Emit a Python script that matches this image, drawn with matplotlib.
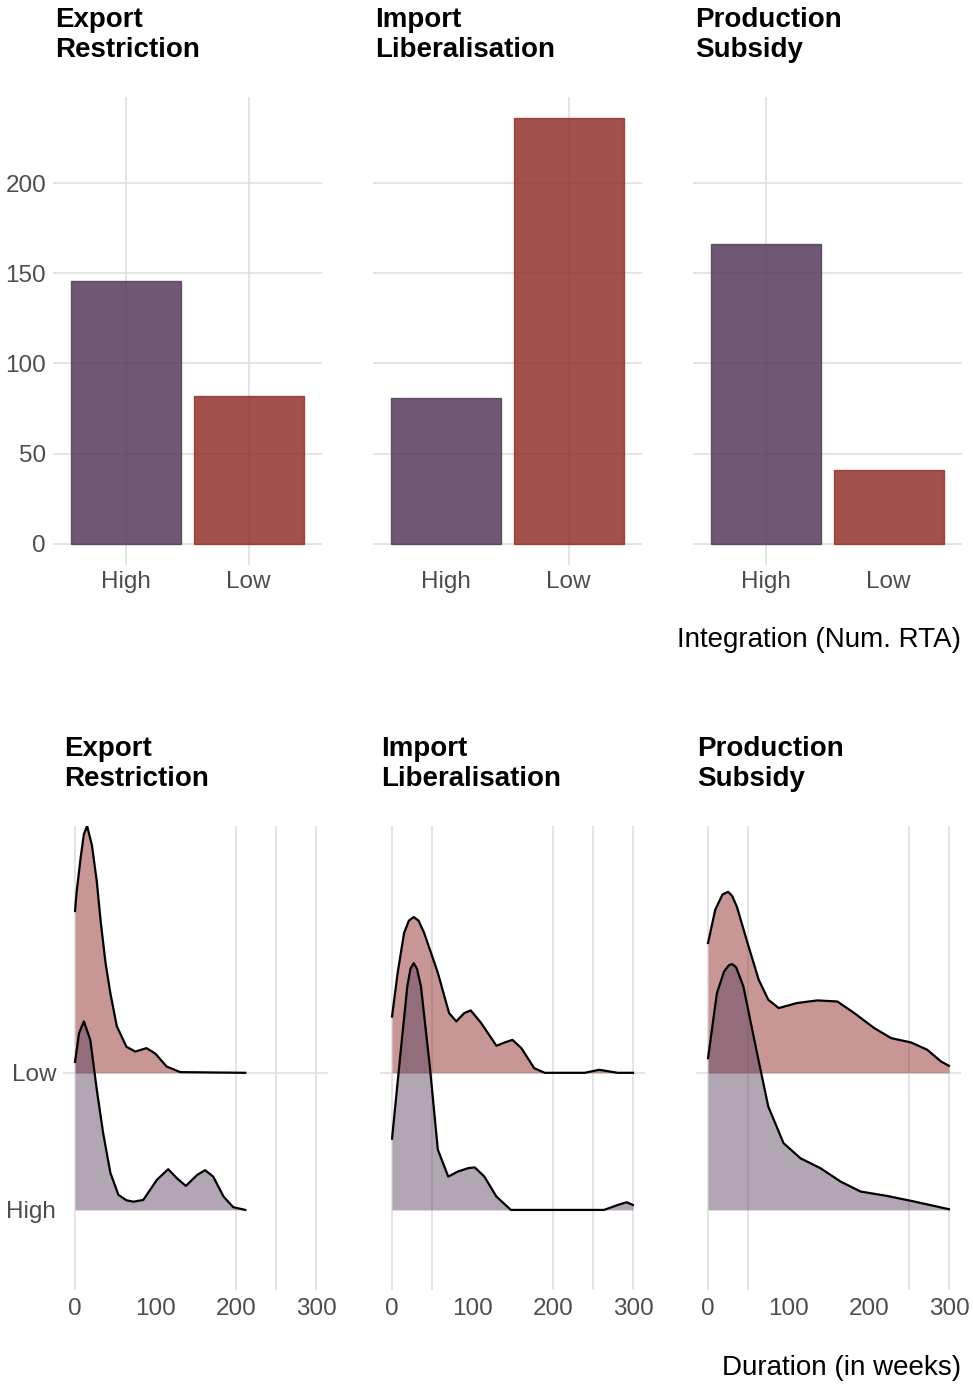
import matplotlib.pyplot as plt

plt.rcParams['font.family'] = ['Liberation Sans', 'DejaVu Sans']

# measure types and integration levels
measures = ['Export\nRestriction', 'Import\nLiberalisation', 'Production\nSubsidy']
levels = ['High', 'Low']

# number of measures by integration level (High, Low)
export_counts = [146, 82]
import_counts = [81, 236]
subsidy_counts = [166, 41]

# duration densities (weeks, height in row units)
export_low_x = [0, 2, 7, 11, 15, 21, 27, 32, 38, 44, 52, 64, 75, 89, 100, 114, 131, 212]
export_low_h = [1.18, 1.32, 1.57, 1.74, 1.80, 1.66, 1.40, 1.10, 0.80, 0.58, 0.34, 0.19, 0.155, 0.18, 0.14, 0.046, 0.005, 0.0]
export_high_x = [0, 5, 11, 19, 27, 35, 44, 54, 64, 73, 85, 102, 116, 127, 138, 152, 162, 172, 185, 197, 212]
export_high_h = [1.08, 1.29, 1.375, 1.24, 0.88, 0.56, 0.27, 0.11, 0.07, 0.06, 0.073, 0.22, 0.297, 0.23, 0.175, 0.255, 0.29, 0.243, 0.097, 0.02, 0.0]

import_low_x = [0, 7, 15, 21, 27, 33, 40, 57, 71, 80, 90, 98, 111, 130, 140, 150, 161, 177, 190, 240, 258, 281, 300]
import_low_h = [0.41, 0.73, 1.02, 1.11, 1.136, 1.11, 1.02, 0.73, 0.436, 0.375, 0.436, 0.455, 0.363, 0.197, 0.221, 0.24, 0.18, 0.034, 0.0, 0.0, 0.022, 0.0, 0.0]
import_high_x = [0, 11, 19, 23, 27, 31, 36, 47, 57, 70, 82, 95, 103, 115, 130, 148, 264, 281, 292, 300]
import_high_h = [0.52, 1.17, 1.63, 1.76, 1.80, 1.76, 1.63, 1.05, 0.44, 0.243, 0.28, 0.305, 0.31, 0.243, 0.097, 0.0, 0.0, 0.036, 0.056, 0.036]

subsidy_low_x = [0, 9, 18, 25, 30, 36, 48, 63, 75, 88, 111, 136, 161, 182, 207, 228, 253, 273, 290, 300]
subsidy_low_h = [0.947, 1.19, 1.30, 1.32, 1.29, 1.21, 0.97, 0.68, 0.533, 0.472, 0.509, 0.528, 0.52, 0.436, 0.326, 0.253, 0.221, 0.168, 0.083, 0.051]
subsidy_high_x = [0, 11, 20, 26, 30, 35, 44, 61, 75, 94, 115, 140, 165, 190, 223, 257, 300]
subsidy_high_h = [1.107, 1.58, 1.74, 1.785, 1.793, 1.77, 1.63, 1.144, 0.754, 0.487, 0.377, 0.304, 0.207, 0.134, 0.102, 0.061, 0.005]

counts = [export_counts, import_counts, subsidy_counts]
dens_low = [(export_low_x, export_low_h), (import_low_x, import_low_h), (subsidy_low_x, subsidy_low_h)]
dens_high = [(export_high_x, export_high_h), (import_high_x, import_high_h), (subsidy_high_x, subsidy_high_h)]

# gridlines that show in each panel
bar_vgrid = [[0, 1], [1], [0]]
ridge_vgrid = [[0, 200, 250, 300], [0, 50, 200, 250, 300], [0, 50, 250, 300]]

purple = '#553B5B'
red = '#92312C'
grid_c = '#DCDCDC'
tick_c = '#4D4D4D'

W, H = 973, 1387
fig = plt.figure(figsize=(W / 100, H / 100), dpi=100)


def px_axes(left, top, width, height):
    return fig.add_axes([left / W, 1 - (top + height) / H, width / W, height / H])


def clean(ax):
    for s in ax.spines.values():
        s.set_visible(False)
    ax.tick_params(length=0, labelsize=17.5, labelcolor=tick_c)


# bar charts
for i, left in enumerate([53, 373, 693]):
    ax = px_axes(left, 97, 269, 468)
    clean(ax)
    ax.set_xlim(-0.6, 1.6)
    ax.set_ylim(-11.8, 247.8)
    for yv in [0, 50, 100, 150, 200]:
        ax.axhline(yv, color=grid_c, lw=1.1, zorder=0)
    for xv in bar_vgrid[i]:
        ax.axvline(xv, color=grid_c, lw=1.1, zorder=0)
    ax.bar([0, 1], counts[i], width=0.9, color=[purple, red], alpha=0.85,
           edgecolor=[purple, red], linewidth=1, zorder=2)
    ax.set_xticks([0, 1])
    ax.set_xticklabels(levels)
    ax.tick_params(axis='x', pad=4)
    ax.set_yticks([0, 50, 100, 150, 200])
    if i == 0:
        ax.tick_params(axis='y', pad=5)
    else:
        ax.set_yticklabels([])
    fig.text((left + 2) / W, 1 - 7 / H, measures[i], fontsize=20, fontweight='bold',
             va='top', ha='left', linespacing=1.2)

fig.text(961 / W, 1 - 640 / H, 'Integration (Num. RTA)', fontsize=20, ha='right', va='center')

# ridgeline densities
for i, left in enumerate([63, 380, 696]):
    ax = px_axes(left, 826, 265, 464)
    clean(ax)
    ax.set_xlim(-15, 315)
    ax.set_ylim(0.416, 3.80)
    ax.axhline(2, color=grid_c, lw=1.1, zorder=0)
    for xv in ridge_vgrid[i]:
        ax.axvline(xv, color=grid_c, lw=1.1, zorder=0)

    lx, lh = dens_low[i]
    ly = [2 + h for h in lh]
    ax.fill_between(lx, 2, ly, color=red, alpha=0.5, lw=0, zorder=1)
    ax.plot(lx, ly, color='black', lw=1.6, zorder=3, solid_joinstyle='round')

    hx, hh = dens_high[i]
    hy = [1 + h for h in hh]
    ax.fill_between(hx, 1, hy, color=purple, alpha=0.45, lw=0, zorder=2)
    ax.plot(hx, hy, color='black', lw=1.6, zorder=3, solid_joinstyle='round')

    ax.set_xticks([0, 100, 200, 300])
    ax.tick_params(axis='x', pad=6)
    ax.set_yticks([1, 2])
    if i == 0:
        ax.set_yticklabels(levels)
        ax.tick_params(axis='y', pad=5)
    else:
        ax.set_yticklabels([])
    fig.text((left + 1) / W, 1 - 736 / H, measures[i], fontsize=20, fontweight='bold',
             va='top', ha='left', linespacing=1.2)

fig.text(961 / W, 1 - 1368 / H, 'Duration (in weeks)', fontsize=20, ha='right', va='center')

fig.savefig('out.png', dpi=100)
